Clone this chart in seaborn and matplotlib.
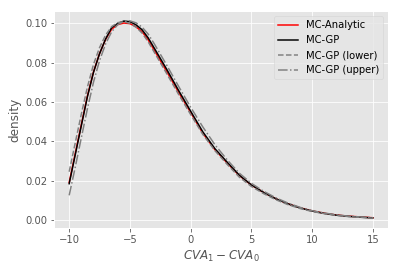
import matplotlib
matplotlib.use("Agg")
import matplotlib.pyplot as plt
import seaborn as sns

x = [-10, -9.5, -9, -8.5, -8, -7.5, -7, -6.5, -6, -5.5, -5, -4.5, -4, -3.5, -3,
     -2, -1, 0, 1, 2, 3, 4, 5, 6, 7, 8, 9, 10, 11, 12, 13, 14, 15]

mc_analytic = [0.0190, 0.0338, 0.0485, 0.0630, 0.0752, 0.0846, 0.0918, 0.0970, 0.0993,
               0.1001, 0.0998, 0.0982, 0.0957, 0.0916, 0.0863, 0.0758, 0.0650, 0.0546,
               0.0441, 0.0357, 0.0290, 0.0226, 0.0177, 0.0140, 0.0108, 0.0082, 0.0062,
               0.0046, 0.0034, 0.0025, 0.0019, 0.0015, 0.0011]

mc_gp = [0.0184, 0.0331, 0.0479, 0.0626, 0.0750, 0.0845, 0.0920, 0.0978, 0.0999,
         0.1011, 0.1008, 0.0992, 0.0967, 0.0926, 0.0874, 0.0769, 0.0659, 0.0553,
         0.0448, 0.0362, 0.0294, 0.0228, 0.0178, 0.0140, 0.0108, 0.0082, 0.0061,
         0.0045, 0.0033, 0.0024, 0.0018, 0.0014, 0.0010]

mc_gp_lower = [0.0245, 0.0392, 0.0538, 0.0675, 0.0790, 0.0876, 0.0940, 0.0983, 0.1003,
               0.1008, 0.0999, 0.0980, 0.0950, 0.0906, 0.0853, 0.0747, 0.0639, 0.0536,
               0.0435, 0.0352, 0.0283, 0.0218, 0.0170, 0.0134, 0.0103, 0.0078, 0.0058,
               0.0043, 0.0032, 0.0023, 0.0017, 0.0013, 0.0009]

mc_gp_upper = [0.0125, 0.0268, 0.0418, 0.0565, 0.0700, 0.0810, 0.0895, 0.0957, 0.0993,
               0.1009, 0.1012, 0.1002, 0.0980, 0.0945, 0.0896, 0.0790, 0.0680, 0.0573,
               0.0473, 0.0382, 0.0306, 0.0238, 0.0186, 0.0146, 0.0113, 0.0086, 0.0064,
               0.0047, 0.0035, 0.0026, 0.0019, 0.0015, 0.0011]

plt.style.use("ggplot")

W, H = 398, 271
fig = plt.figure(figsize=(W / 72, H / 72), dpi=72)
ax = fig.add_axes([54 / W, (H - 228) / H, (388 - 54) / W, (228 - 11) / H])

sns.lineplot(x=x, y=mc_analytic, ax=ax, color="red", linewidth=1.5, label="MC-Analytic")
sns.lineplot(x=x, y=mc_gp, ax=ax, color="black", linewidth=1.5, label="MC-GP")
sns.lineplot(x=x, y=mc_gp_lower, ax=ax, color="gray", linewidth=1.5, linestyle="--",
             label="MC-GP (lower)")
sns.lineplot(x=x, y=mc_gp_upper, ax=ax, color="gray", linewidth=1.5, linestyle="-.",
             label="MC-GP (upper)")

ax.set_xticks([-10, -5, 0, 5, 10, 15])
ax.set_yticks([0.00, 0.02, 0.04, 0.06, 0.08, 0.10])
ax.set_xlabel("$CVA_1 - CVA_0$")
ax.set_ylabel("density")
ax.legend(loc="upper right")

fig.savefig("out.png", dpi=72)
